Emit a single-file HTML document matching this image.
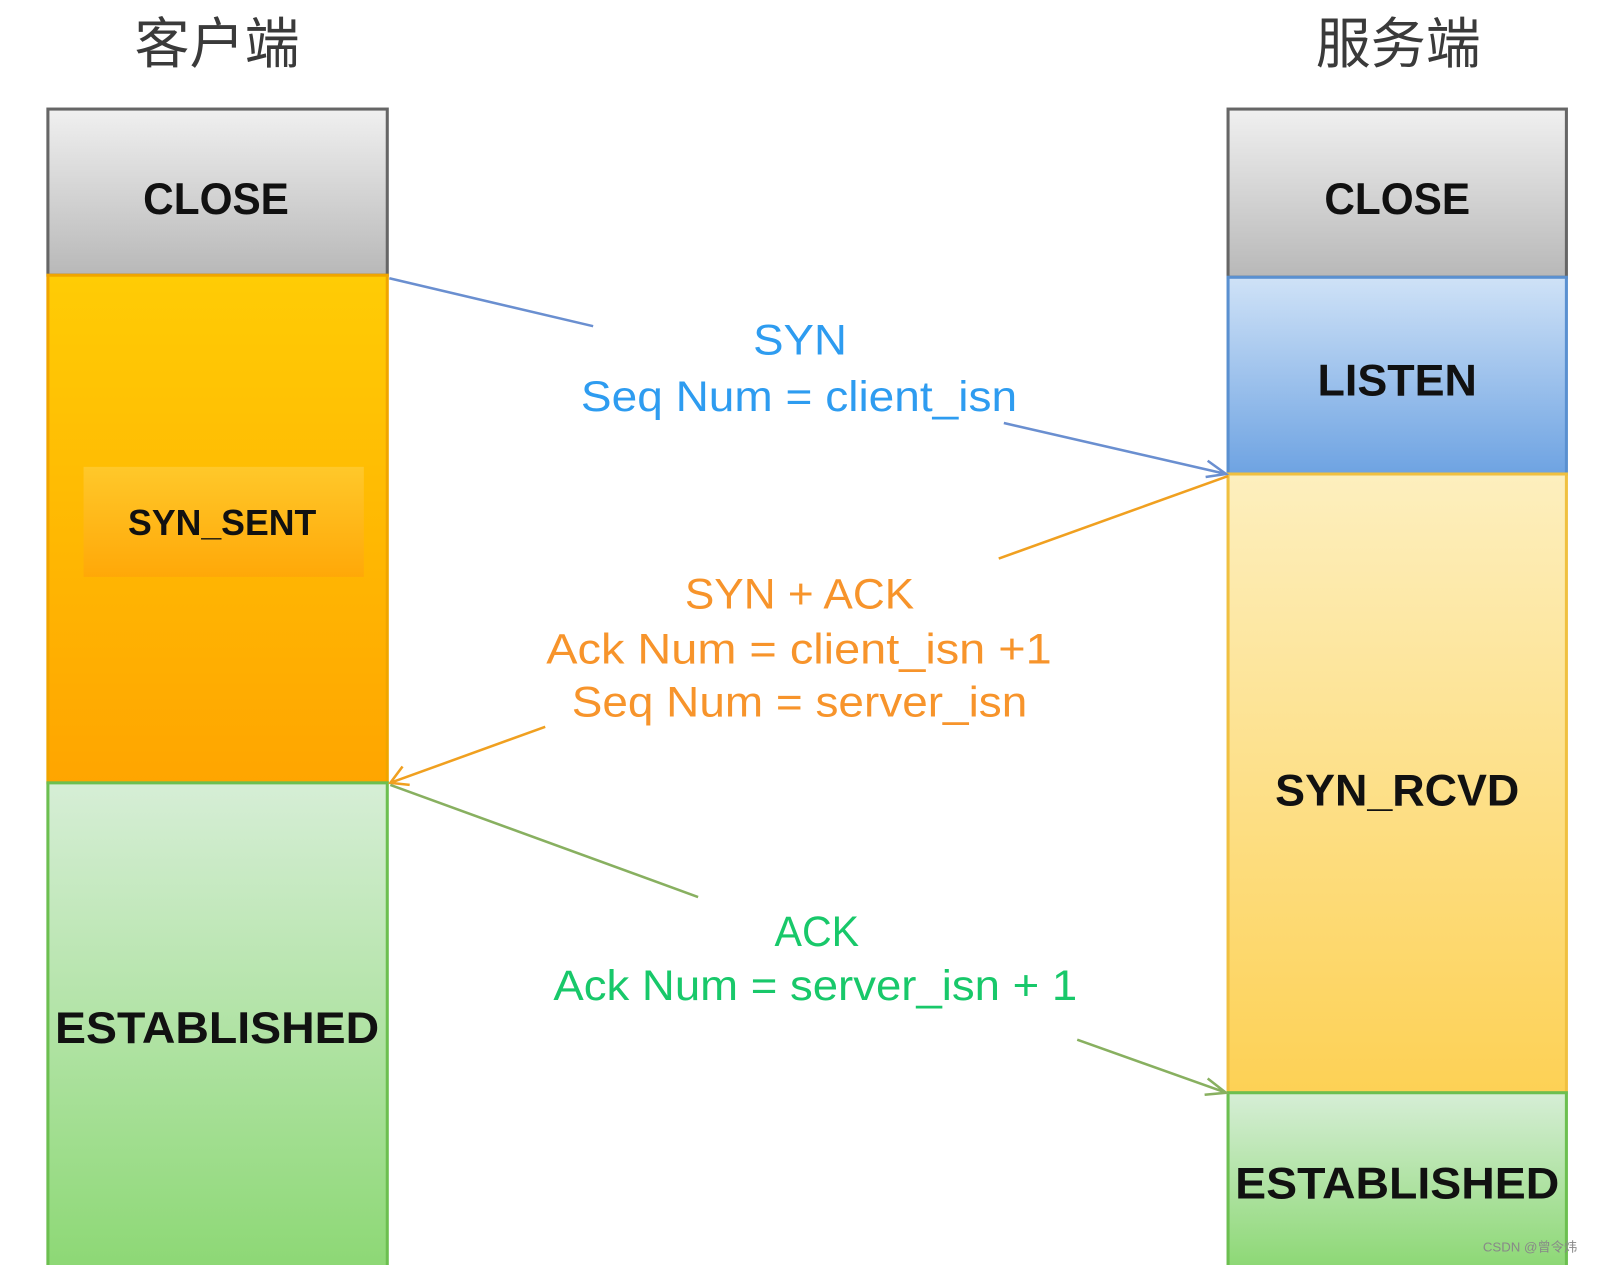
<!DOCTYPE html>
<html><head><meta charset="utf-8"><style>
html,body{margin:0;padding:0;background:#fff;width:1598px;height:1265px;overflow:hidden}
svg{display:block}
</style></head><body>
<svg width="1598" height="1265" viewBox="0 0 1568 1241" preserveAspectRatio="none" xmlns="http://www.w3.org/2000/svg">
<defs>
<linearGradient id="gr" x1="0" y1="0" x2="0" y2="1"><stop offset="0" stop-color="#f0f0f0"/><stop offset="1" stop-color="#b8b8b8"/></linearGradient>
<linearGradient id="or" x1="0" y1="0" x2="0" y2="1"><stop offset="0" stop-color="#ffcc05"/><stop offset="1" stop-color="#ffa500"/></linearGradient>
<linearGradient id="or2" x1="0" y1="0" x2="0" y2="1"><stop offset="0" stop-color="#ffc82a"/><stop offset="1" stop-color="#ffa808"/></linearGradient>
<linearGradient id="gn" x1="0" y1="0" x2="0" y2="1"><stop offset="0" stop-color="#d6eed6"/><stop offset="1" stop-color="#8dd875"/></linearGradient>
<linearGradient id="bl" x1="0" y1="0" x2="0" y2="1"><stop offset="0" stop-color="#cfe2f7"/><stop offset="1" stop-color="#6ea3e2"/></linearGradient>
<linearGradient id="yl" x1="0" y1="0" x2="0" y2="1"><stop offset="0" stop-color="#fdefbe"/><stop offset="1" stop-color="#fdd155"/></linearGradient>
</defs>
<g font-family="Liberation Sans, Noto Sans CJK SC, sans-serif">
<text x="213" y="62" font-size="54" fill="#3a3a3a" text-anchor="middle" font-family="Noto Sans CJK SC, sans-serif">客户端</text>
<text x="1372" y="62" font-size="54" fill="#3a3a3a" text-anchor="middle" font-family="Noto Sans CJK SC, sans-serif">服务端</text>

<rect x="47" y="107" width="333" height="163" fill="url(#gr)" stroke="#666" stroke-width="3"/>
<rect x="47" y="270" width="333" height="498" fill="url(#or)" stroke="#f0a500" stroke-width="3"/>
<rect x="82" y="458" width="275" height="108" fill="url(#or2)"/>
<rect x="47" y="768" width="333" height="475" fill="url(#gn)" stroke="#6cbf50" stroke-width="3"/>

<rect x="1205" y="107" width="332" height="165" fill="url(#gr)" stroke="#666" stroke-width="3"/>
<rect x="1205" y="272" width="332" height="193" fill="url(#bl)" stroke="#5a90d0" stroke-width="3"/>
<rect x="1205" y="465" width="332" height="607" fill="url(#yl)" stroke="#f0c040" stroke-width="3"/>
<rect x="1205" y="1072" width="332" height="171" fill="url(#gn)" stroke="#6cbf50" stroke-width="3"/>

<g font-weight="bold" fill="#111" text-anchor="middle">
<text x="212" y="210" font-size="44" textLength="143" lengthAdjust="spacingAndGlyphs">CLOSE</text>
<text x="1371" y="210" font-size="44" textLength="143" lengthAdjust="spacingAndGlyphs">CLOSE</text>
<text x="218" y="525" font-size="35">SYN_SENT</text>
<text x="1371" y="388" font-size="44">LISTEN</text>
<text x="1371" y="790" font-size="44">SYN_RCVD</text>
<text x="213" y="1023" font-size="44" textLength="318" lengthAdjust="spacingAndGlyphs">ESTABLISHED</text>
<text x="1371" y="1176" font-size="44" textLength="318" lengthAdjust="spacingAndGlyphs">ESTABLISHED</text>
</g>

<g font-size="42">
<text x="739" y="348" fill="#2e9cf0" textLength="92" lengthAdjust="spacingAndGlyphs">SYN</text>
<text x="570" y="403" fill="#2e9cf0" textLength="428" lengthAdjust="spacingAndGlyphs">Seq Num = client_isn</text>
<text x="672" y="597" fill="#f7942b" textLength="225" lengthAdjust="spacingAndGlyphs">SYN + ACK</text>
<text x="536" y="651" fill="#f7942b" textLength="496" lengthAdjust="spacingAndGlyphs">Ack Num =  client_isn +1</text>
<text x="561" y="703" fill="#f7942b" textLength="447" lengthAdjust="spacingAndGlyphs">Seq Num = server_isn</text>
<text x="760" y="928" fill="#18c86a" textLength="83" lengthAdjust="spacingAndGlyphs">ACK</text>
<text x="543" y="981" fill="#18c86a" textLength="514" lengthAdjust="spacingAndGlyphs">Ack Num = server_isn + 1</text>
</g>

<g fill="none" stroke-width="2.5">
<path d="M382 273 L582 320" stroke="#6a8fd0"/>
<path d="M985 415 L1203 465 M1185 452 L1203 465 L1183 468" stroke="#6a8fd0"/>
<path d="M1205 467 L980 548" stroke="#f0a020"/>
<path d="M535 713 L383 768 M395 752 L383 768 L402 770" stroke="#f0a020"/>
<path d="M383 770 L685 880" stroke="#88b060"/>
<path d="M1057 1020 L1203 1072 M1185 1058 L1203 1072 L1182 1074" stroke="#88b060"/>
</g>
<text x="1455" y="1228" font-size="13" fill="#888">CSDN @曾令炜</text>
</g>
</svg>
</body></html>
